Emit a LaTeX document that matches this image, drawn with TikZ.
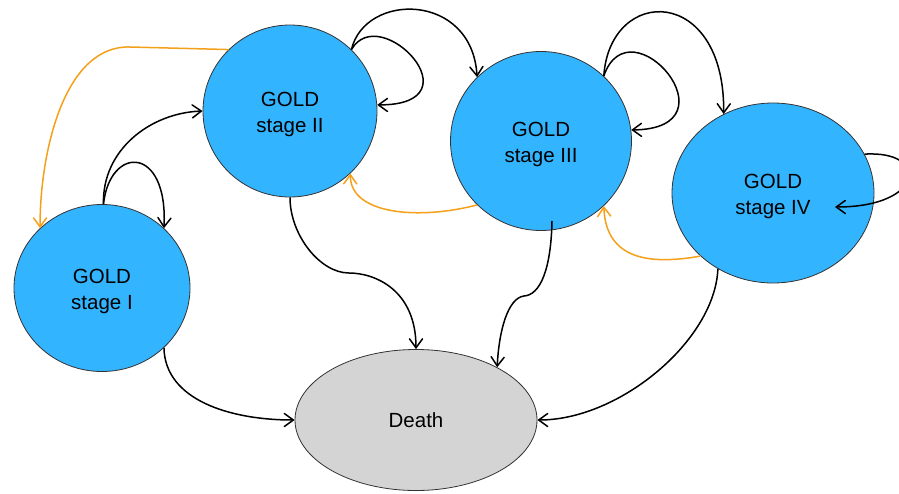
\documentclass[tikz,border=0pt]{standalone}
\usepackage{fontspec}
\setmainfont{Liberation Sans}
\usetikzlibrary{shapes.geometric,arrows.meta}
\definecolor{stblue}{HTML}{33B4FF}
\definecolor{dgrey}{HTML}{D4D4D4}
\definecolor{orng}{HTML}{F5A01A}
\newcommand{\lowr}{\rule{0pt}{22pt}}
\begin{document}
\begin{tikzpicture}[x=1pt,y=-1pt,
  state/.style={ellipse,draw=black!80,line width=0.8pt,fill=stblue,inner sep=0pt,align=center,
    font=\fontsize{20.5}{26}\selectfont},
  deathstate/.style={state,fill=dgrey},
  conn/.style={line width=1.5pt,draw=black,-{Straight Barb[length=9pt,width=13pt,line cap=round]}},
  oconn/.style={conn,draw=orng}]
\useasboundingbox (0,0) rectangle (899,493);
\node[state,minimum width=176pt,minimum height=167pt] (s1) at (102,288) {\lowr GOLD\\stage I};
\node[state,minimum width=174pt,minimum height=172pt] (s2) at (290,111) {\lowr GOLD\\stage II};
\node[state,minimum width=181pt,minimum height=179pt] (s3) at (541,141) {\lowr GOLD\\stage III};
\node[state,minimum width=202pt,minimum height=180pt] (s4) at (773,193) {\lowr GOLD\\stage IV};
\node[deathstate,minimum width=242pt,minimum height=141pt] (d) at (416,420) {Death};
\coordinate (s3out) at (552,221);
\coordinate (s4in) at (835,207);
% stage I
\draw[conn] (s1.89) .. controls (102,150) and (150,113) .. (s2.180);
\draw[conn] (s1.89) .. controls (110,145) and (168,145) .. (s1.44);
\draw[conn] (s1.-44) .. controls (165,400) and (230,420) .. (d.180);
% stage II
\draw[conn] (s2.45) .. controls (380,0) and (480,105) .. (s2.4);
\draw[conn] (s2.45) .. controls (365,-8) and (472,-8) .. (s3.135);
\draw[conn] (s2.270) .. controls (290,235) and (320,273) .. (349,273)
  .. controls (375,273) and (416,290) .. (d.90);
\draw[oconn] (s2.135.5) -- (130,47) .. controls (65,45) and (40,150) .. (s1.136.4);
% stage III
\draw[conn] (s3.46) .. controls (630,0) and (740,129) .. (s3.7.5);
\draw[conn] (s3.46) .. controls (610,-15) and (725,-15) .. (s4.122);
\draw[conn] (s3out) .. controls (551,270) and (540,295) .. (524,296)
  .. controls (508,298) and (499,330) .. (d.33);
\draw[oconn] (s3.225.5) .. controls (420,220) and (350,215) .. (s2.314);
% stage IV
\draw[conn] (s4.23) .. controls (930,150) and (925,207) .. (s4in);
\draw[conn] (s4.234) .. controls (715,340) and (620,420) .. (d.0);
\draw[oconn] (s4.221.7) .. controls (650,265) and (606,260) .. (s3.314);
\end{tikzpicture}
\end{document}
